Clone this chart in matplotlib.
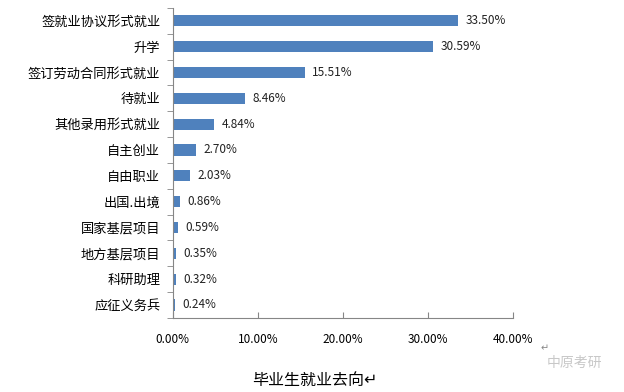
import matplotlib.pyplot as plt
import numpy as np

plt.rcParams['font.family'] = ['Noto Sans CJK SC', 'DejaVu Sans']

categories = ["签就业协议形式就业", "升学", "签订劳动合同形式就业", "待就业",
              "其他录用形式就业", "自主创业", "自由职业", "出国.出境",
              "国家基层项目", "地方基层项目", "科研助理", "应征义务兵"]
values = [33.50, 30.59, 15.51, 8.46, 4.84, 2.70, 2.03, 0.86, 0.59, 0.35, 0.32, 0.24]
xticks = [0, 10, 20, 30, 40]

fig = plt.figure(figsize=(6.24, 3.92), dpi=100)
ax = fig.add_axes([0.277, 0.189, 0.545, 0.791])

y = np.arange(len(categories))
ax.barh(y, values, height=0.43, color="#4F81BD")
for yi, v in zip(y, values):
    ax.text(v + 0.9, yi, f"{v:.2f}%", va="center", ha="left", fontsize=8.5, color="#222222")

ax.set_ylim(len(categories) - 0.5, -0.5)
ax.set_xlim(0, 40)
ax.set_yticks(y)
ax.set_yticklabels(categories, fontsize=9.5)
ax.set_yticks(np.arange(len(categories) + 1) - 0.5, minor=True)
ax.tick_params(axis="y", which="major", length=0, pad=9)
ax.tick_params(axis="y", which="minor", length=4, color="#868686", direction="out")
ax.set_xticks(xticks)
ax.set_xticklabels([f"{t:.2f}%" for t in xticks], fontsize=8.5)
ax.tick_params(axis="x", length=4, direction="in", color="#868686", pad=11)

for side in ["top", "right"]:
    ax.spines[side].set_visible(False)
for side in ["left", "bottom"]:
    ax.spines[side].set_color("#868686")

fig.text(0.505, 0.03, "毕业生就业去向↵", ha="center", va="center", fontsize=11.5)
fig.text(0.872, 0.112, "↵", ha="center", va="center", fontsize=7, color="#888888")
fig.text(0.92, 0.075, "中原考研", ha="center", va="center", fontsize=10, color="#c8c8c8")

fig.savefig("out.png", dpi=100)
